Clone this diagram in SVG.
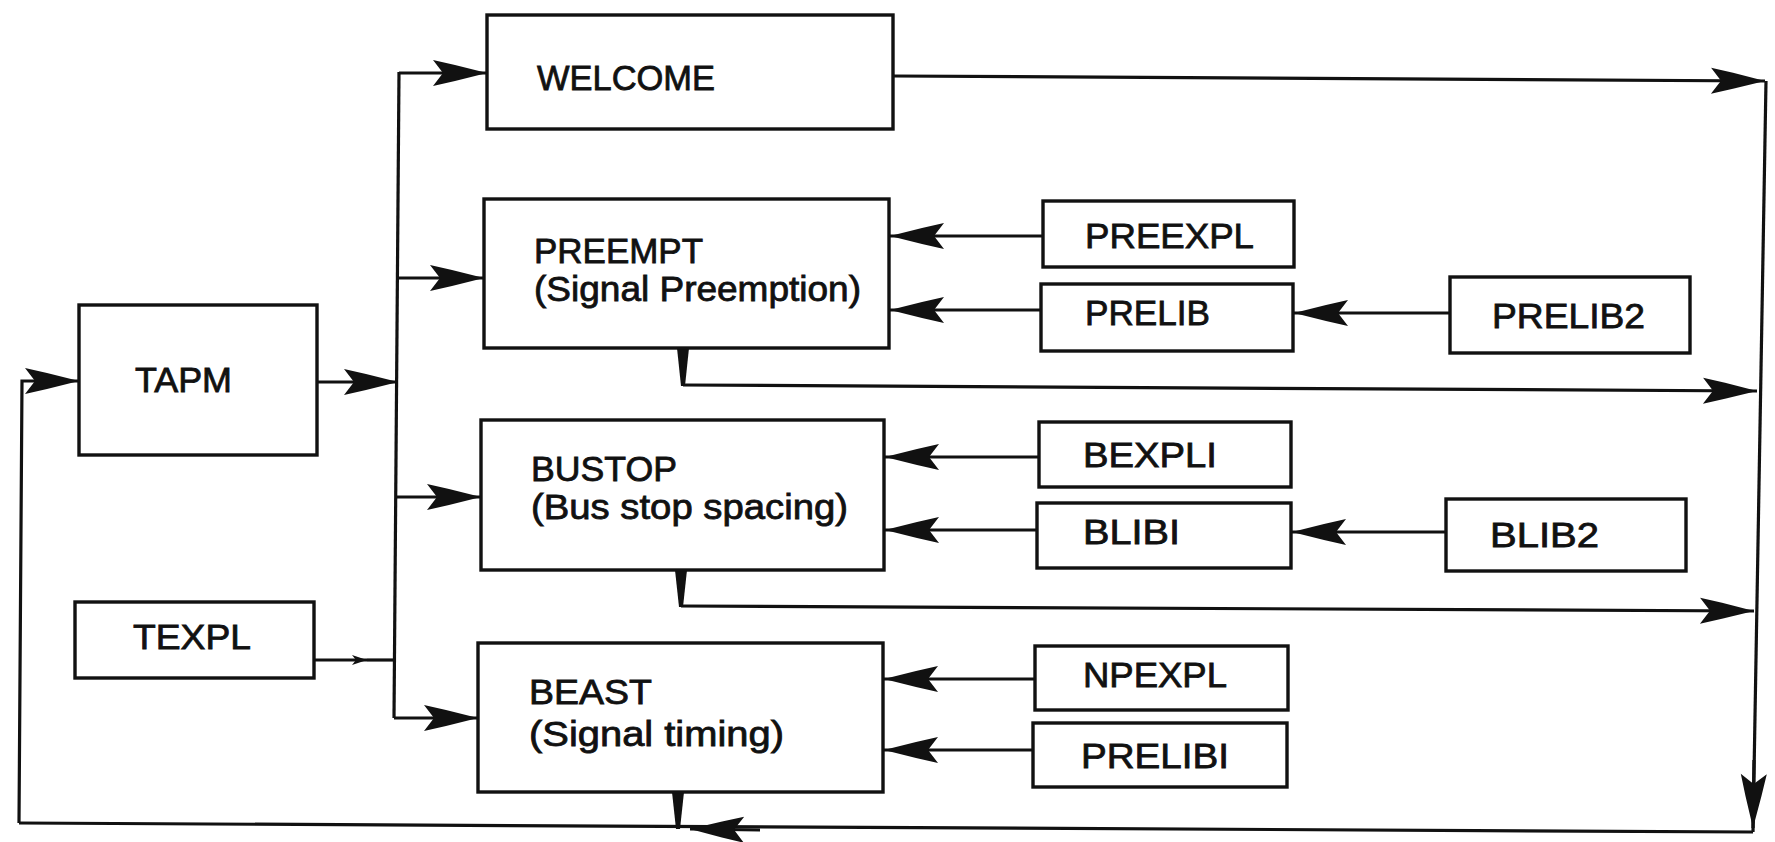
<svg xmlns="http://www.w3.org/2000/svg" width="1775" height="842" viewBox="0 0 1775 842">
<style>
.box{fill:#fff;stroke:#111;stroke-width:3.4}
.t{font-family:"Liberation Sans",Arial,sans-serif;font-size:35px;fill:#111;stroke:#111;stroke-width:0.8}
.ln{fill:none;stroke:#111;stroke-width:3.2}
.wedge{fill:#111}
</style>
<defs>
<marker id="ah" markerUnits="userSpaceOnUse" viewBox="-56 -14 58 28" refX="0" refY="0" markerWidth="58" markerHeight="28" orient="auto">
<path d="M0,0 L-32,-8 L-54,-13 L-44,0 L-54,13 L-32,8 Z" fill="#111"/>
</marker>
<marker id="ahs" markerUnits="userSpaceOnUse" viewBox="-16 -6 18 12" refX="0" refY="0" markerWidth="18" markerHeight="12" orient="auto">
<path d="M0,0 L-15,-5 L-11,0 L-15,5 Z" fill="#111"/>
</marker>
</defs>
<rect width="1775" height="842" fill="#fff"/>
<g id="connectors">
<path class="ln" d="M399,72 L394,718"/>
<path class="ln" d="M399,73 L487,73" marker-end="url(#ah)"/>
<path class="ln" d="M398,278 L484,278" marker-end="url(#ah)"/>
<path class="ln" d="M396,497 L481,497" marker-end="url(#ah)"/>
<path class="ln" d="M394,718 L478,718" marker-end="url(#ah)"/>
<path class="ln" d="M317,382 L398,382" marker-end="url(#ah)"/>
<path class="ln" d="M314,660 L367,660" marker-end="url(#ahs)"/>
<path class="ln" d="M367,660 L396,660"/>
<path class="ln" d="M1043,236 L890,236" marker-end="url(#ah)"/>
<path class="ln" d="M1041,310 L890,310" marker-end="url(#ah)"/>
<path class="ln" d="M1450,313 L1294,313" marker-end="url(#ah)"/>
<path class="ln" d="M1039,457 L885,457" marker-end="url(#ah)"/>
<path class="ln" d="M1037,530 L885,530" marker-end="url(#ah)"/>
<path class="ln" d="M1446,532 L1292,532" marker-end="url(#ah)"/>
<path class="ln" d="M1035,679 L884,679" marker-end="url(#ah)"/>
<path class="ln" d="M1033,750 L884,750" marker-end="url(#ah)"/>
<path class="ln" d="M893,76 L1765,81" marker-end="url(#ah)"/>
<path class="ln" d="M683,385 L1757,391" marker-end="url(#ah)"/>
<path class="ln" d="M681,606 L1754,611" marker-end="url(#ah)"/>
<path class="wedge" d="M677,348 L689,348 L685,386 L681,386 Z"/>
<path class="wedge" d="M675,570 L687,570 L683,607 L679,607 Z"/>
<path class="wedge" d="M672,792 L684,792 L680,829 L676,829 Z"/>
<path class="ln" d="M1766,81 L1753,832"/>
<path class="ln" d="M1754,760 L1753,828" marker-end="url(#ah)"/>
<path class="ln" d="M1753,832 L19,823"/>
<path class="ln" d="M760,830 L690,829" marker-end="url(#ah)"/>
<path class="ln" d="M19,823 L22,381 L79,381" marker-end="url(#ah)"/>
</g>
<g id="welcome"><rect class="box" x="487" y="15" width="406" height="114"/><text class="t" x="537" y="90" textLength="178" lengthAdjust="spacingAndGlyphs">WELCOME</text></g>
<g id="preempt"><rect class="box" x="484" y="199" width="405" height="149"/><text class="t" x="534" y="263" textLength="169" lengthAdjust="spacingAndGlyphs">PREEMPT</text><text class="t" x="534" y="301" textLength="327" lengthAdjust="spacingAndGlyphs">(Signal Preemption)</text></g>
<g id="tapm"><rect class="box" x="79" y="305" width="238" height="150"/><text class="t" x="135" y="392" textLength="97" lengthAdjust="spacingAndGlyphs">TAPM</text></g>
<g id="bustop"><rect class="box" x="481" y="420" width="403" height="150"/><text class="t" x="531" y="481" textLength="146" lengthAdjust="spacingAndGlyphs">BUSTOP</text><text class="t" x="531" y="519" textLength="317" lengthAdjust="spacingAndGlyphs">(Bus stop spacing)</text></g>
<g id="texpl"><rect class="box" x="75" y="602" width="239" height="76"/><text class="t" x="133" y="649" textLength="118" lengthAdjust="spacingAndGlyphs">TEXPL</text></g>
<g id="beast"><rect class="box" x="478" y="643" width="405" height="149"/><text class="t" x="529" y="704" textLength="123" lengthAdjust="spacingAndGlyphs">BEAST</text><text class="t" x="529" y="746" textLength="255" lengthAdjust="spacingAndGlyphs">(Signal timing)</text></g>
<g id="preexpl"><rect class="box" x="1043" y="201" width="251" height="66"/><text class="t" x="1085" y="248" textLength="169" lengthAdjust="spacingAndGlyphs">PREEXPL</text></g>
<g id="prelib"><rect class="box" x="1041" y="284" width="252" height="67"/><text class="t" x="1085" y="325" textLength="125" lengthAdjust="spacingAndGlyphs">PRELIB</text></g>
<g id="prelib2"><rect class="box" x="1450" y="277" width="240" height="76"/><text class="t" x="1492" y="328" textLength="153" lengthAdjust="spacingAndGlyphs">PRELIB2</text></g>
<g id="bexpli"><rect class="box" x="1039" y="422" width="252" height="65"/><text class="t" x="1083" y="467" textLength="134" lengthAdjust="spacingAndGlyphs">BEXPLI</text></g>
<g id="blibi"><rect class="box" x="1037" y="503" width="254" height="65"/><text class="t" x="1083" y="544" textLength="97" lengthAdjust="spacingAndGlyphs">BLIBI</text></g>
<g id="blib2"><rect class="box" x="1446" y="499" width="240" height="72"/><text class="t" x="1490" y="547" textLength="109" lengthAdjust="spacingAndGlyphs">BLIB2</text></g>
<g id="npexpl"><rect class="box" x="1035" y="646" width="253" height="64"/><text class="t" x="1083" y="687" textLength="144" lengthAdjust="spacingAndGlyphs">NPEXPL</text></g>
<g id="prelibi"><rect class="box" x="1033" y="723" width="254" height="64"/><text class="t" x="1081" y="768" textLength="148" lengthAdjust="spacingAndGlyphs">PRELIBI</text></g>
</svg>
